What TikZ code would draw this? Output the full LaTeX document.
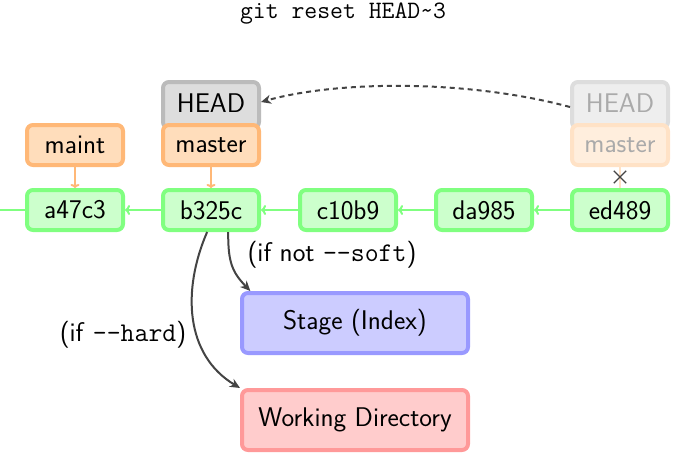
\documentclass[tikz,border=0pt]{standalone}
\usetikzlibrary{arrows.meta,shapes.misc}
\definecolor{cg}{HTML}{80FF80}
\definecolor{cgf}{HTML}{CCFFCC}
\definecolor{co}{HTML}{FFB877}
\definecolor{cof}{HTML}{FFDDBB}
\definecolor{chd}{HTML}{BBBBBB}
\definecolor{chdf}{HTML}{DDDDDD}
\definecolor{fhd}{HTML}{DDDDDD}
\definecolor{fhdf}{HTML}{EEEEEE}
\definecolor{fmo}{HTML}{FFE2C6}
\definecolor{fmof}{HTML}{FFEEDD}
\definecolor{cs}{HTML}{9999FF}
\definecolor{csf}{HTML}{CCCCFF}
\definecolor{cw}{HTML}{FF9999}
\definecolor{cwf}{HTML}{FFCCCC}
\definecolor{dark}{HTML}{444444}
\definecolor{ftext}{HTML}{AAAAAA}
\begin{document}
\begin{tikzpicture}[x=1pt,y=-1pt,
  font=\sffamily\fontsize{27}{32}\selectfont,
  box/.style={line width=4pt, rounded corners=6pt, minimum width=96pt, minimum height=40pt, inner sep=0pt, text=black},
  commit/.style={box, draw=cg, fill=cgf},
  branch/.style={box, draw=co, fill=cof},
  headbox/.style={box, draw=chd, fill=chdf, minimum height=46pt},
  fhead/.style={box, draw=fhd, fill=fhdf, text=ftext, minimum height=46pt},
  fbranch/.style={box, draw=fmo, fill=fmof, text=ftext},
  area/.style={box, minimum width=226pt, minimum height=60pt},
  garrow/.style={draw=cg, line width=2pt, -{To[length=5pt,width=10pt]}},
  oarrow/.style={draw=co, line width=2pt, -{To[length=4pt,width=9pt]}},
  darrow/.style={draw=dark, line width=2pt, -{Stealth[length=10pt,width=9pt,inset=3pt]}}
]
\useasboundingbox (0,0) rectangle (687,460);

\node[font=\ttfamily\fontsize{25}{30}\selectfont] (title) at (343,14) {git reset HEAD\textasciitilde3};

% commits
\node[commit] (a47c3) at (75,210) {a47c3};
\node[commit] (b325c) at (211,210) {b325c};
\node[commit] (c10b9) at (348,210) {c10b9};
\node[commit] (da985) at (484,210) {da985};
\node[commit] (ed489) at (620,210) {ed489};
\coordinate (left) at (0,210);

% refs
\node[headbox] (HEAD) at (211,105) {\raisebox{3pt}{HEAD}};
\node[branch] (master) at (211,145) {master};
\node[branch] (maint) at (75,145) {maint};
\node[fhead] (HEADf) at (620,105) {\raisebox{3pt}{HEAD}};
\node[fbranch] (masterf) at (620,145) {master};

% areas
\node[area, draw=cs, fill=csf] (stage) at (355,323) {Stage (Index)};
\node[area, draw=cw, fill=cwf] (wd) at (355,420) {Working Directory};

% history
\draw[draw=cg, line width=2pt] (a47c3) -- (left);
\draw[garrow] (b325c) -- (a47c3);
\draw[garrow] (c10b9) -- (b325c);
\draw[garrow] (da985) -- (c10b9);
\draw[garrow] (ed489) -- (da985);

\draw[oarrow] (maint) -- (a47c3);
\draw[oarrow] (master) -- (b325c);
\draw[draw=fmo, line width=2pt] (masterf) -- (ed489);
\node[cross out, draw=dark, line width=1.3pt, minimum size=11pt, inner sep=0pt] (cross) at (620,177) {};

% moved HEAD
\draw[darrow, dash pattern=on 5pt off 4pt] (HEADf.west |- 0,107) .. controls (470,80) and (340,80) .. (HEAD.east |- 0,102);

% reset effects
\draw[darrow] (b325c.-52) .. controls (228,262) and (232,272) .. (stage.163);
\draw[darrow] (b325c.-100) .. controls (182,290) and (185,355) .. (wd.north west);

\node (lsoft) at (332,255) {(if not \texttt{-{}-soft})};
\node (lhard) at (123,335) {(if \texttt{-{}-hard})};
\end{tikzpicture}
\end{document}
